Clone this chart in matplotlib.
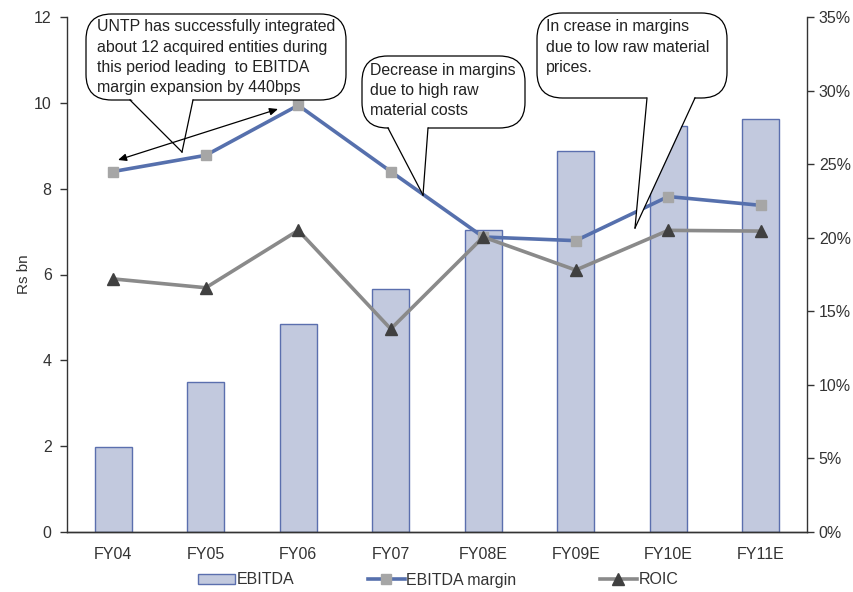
import matplotlib
matplotlib.use("Agg")
import matplotlib.pyplot as plt
from matplotlib.patches import FancyBboxPatch, Polygon, FancyArrowPatch
from matplotlib.lines import Line2D
from matplotlib.ticker import FuncFormatter, MultipleLocator

plt.rcParams['font.family'] = ['Liberation Sans', 'DejaVu Sans']

categories = ["FY04", "FY05", "FY06", "FY07", "FY08E", "FY09E", "FY10E", "FY11E"]
ebitda = [1.98, 3.50, 4.85, 5.66, 7.04, 8.88, 9.46, 9.63]
ebitda_margin = [24.5, 25.6, 29.0, 24.5, 20.05, 19.8, 22.8, 22.2]
roic = [17.2, 16.6, 20.5, 13.8, 20.05, 17.8, 20.5, 20.45]

W, H = 854, 592
fig = plt.figure(figsize=(W / 100, H / 100), dpi=100)
ax = fig.add_axes([67 / W, 1 - 532 / H, (807 - 67) / W, (532 - 17) / H])
ax2 = ax.twinx()

txtc = "#333333"
x = list(range(len(categories)))
ax.bar(x, ebitda, width=0.4, color="#c2c9de", edgecolor="#5b6fae", linewidth=1.0, zorder=1)
ax.set_xlim(-0.5, len(categories) - 0.5)
ax.set_ylim(0, 12)
ax.yaxis.set_major_locator(MultipleLocator(2))
ax.set_xticks(x)
ax.set_xticklabels(categories)
ax.set_ylabel("Rs bn", color=txtc, fontsize=11, labelpad=2)

ax2.plot(x, ebitda_margin, color="#5670ad", linewidth=2.6, marker="s", markersize=7,
         markerfacecolor="#a6a6a6", markeredgecolor="#a6a6a6", zorder=3)
ax2.plot(x, roic, color="#8a8a8a", linewidth=2.6, marker="^", markersize=8,
         markerfacecolor="#404040", markeredgecolor="#404040", zorder=3)
ax2.set_ylim(0, 35)
ax2.yaxis.set_major_locator(MultipleLocator(5))
ax2.yaxis.set_major_formatter(FuncFormatter(lambda v, p: f"{v:.0f}%"))
ax2.set_zorder(ax.get_zorder() + 1)
ax2.patch.set_visible(False)

for a in (ax, ax2):
    a.spines["top"].set_visible(False)
    for s in a.spines.values():
        s.set_color("#333333")
        s.set_linewidth(1.0)
    a.tick_params(colors=txtc, labelsize=11.5, length=5, width=1.0)
ax.spines["right"].set_visible(False)
ax2.spines["left"].set_visible(False)
ax.tick_params(axis="x", length=0, pad=11)
ax.tick_params(axis="y", pad=6)

def fp(px, py):
    return (px / W, 1 - py / H)

def callout(x0, y0, x1, y1, tail, lines, tx, ty):
    bx, by = fp(x0, y1)
    bw = (x1 - x0) / W
    bh = (y1 - y0) / H
    box = FancyBboxPatch((bx, by), bw, bh, boxstyle="round,pad=0,rounding_size=0.03",
                         transform=fig.transFigure, facecolor="white", edgecolor="black",
                         linewidth=0.9, zorder=10, mutation_aspect=W / H)
    fig.add_artist(box)
    (lx, ly), (rx, ry), (px_, py_) = tail
    poly = Polygon([fp(lx, ly - 2), fp(rx, ry - 2), fp(px_, py_)], closed=True,
                   transform=fig.transFigure, facecolor="white", edgecolor="none", zorder=11)
    fig.add_artist(poly)
    for (sx, sy) in [(lx, ly), (rx, ry)]:
        fig.add_artist(Line2D([fp(sx, sy)[0], fp(px_, py_)[0]], [fp(sx, sy)[1], fp(px_, py_)[1]],
                              transform=fig.transFigure, color="black", linewidth=0.9, zorder=12))
    for i, t in enumerate(lines):
        fx, fy = fp(tx, ty + i * 20.3)
        fig.text(fx, fy, t, fontsize=11.4, color="#222222", va="center", ha="left", zorder=13)

callout(86, 14, 346, 100, [(130, 100), (193, 100), (182, 152)],
        ["UNTP has successfully integrated", "about 12 acquired entities during",
         "this period leading  to EBITDA", "margin expansion by 440bps"], 97, 27)
callout(362, 56, 525, 128, [(388, 128), (428, 128), (423, 195)],
        ["Decrease in margins", "due to high raw", "material costs"], 370, 70)
callout(537, 13, 727, 98, [(647, 98), (695, 98), (635, 228)],
        ["In crease in margins", "due to low raw material", "prices."], 546, 27)

arr = FancyArrowPatch(fp(118, 160), fp(278, 109), transform=fig.transFigure,
                      arrowstyle="<|-|>,head_length=5,head_width=2.2", color="black",
                      linewidth=0.9, zorder=12, shrinkA=0, shrinkB=0)
fig.add_artist(arr)

handles = [
    plt.Rectangle((0, 0), 1, 1, facecolor="#c2c9de", edgecolor="#5b6fae", linewidth=1.0),
    Line2D([], [], color="#5670ad", linewidth=2.6, marker="s", markersize=7,
           markerfacecolor="#a6a6a6", markeredgecolor="#a6a6a6"),
    Line2D([], [], color="#8a8a8a", linewidth=2.6, marker="^", markersize=8,
           markerfacecolor="#404040", markeredgecolor="#404040"),
]
labels = ["EBITDA", "EBITDA margin", "ROIC"]
starts = [198, 368, 600]
for h, lab, sx in zip(handles, labels, starts):
    fig.legend([h], [lab], loc="center left", bbox_to_anchor=fp(sx, 580), frameon=False,
               fontsize=11.5, handlelength=2.3, handletextpad=0.1, borderpad=0,
               borderaxespad=0, labelcolor=txtc, handleheight=0.6)

fig.savefig("out.png", dpi=100)
